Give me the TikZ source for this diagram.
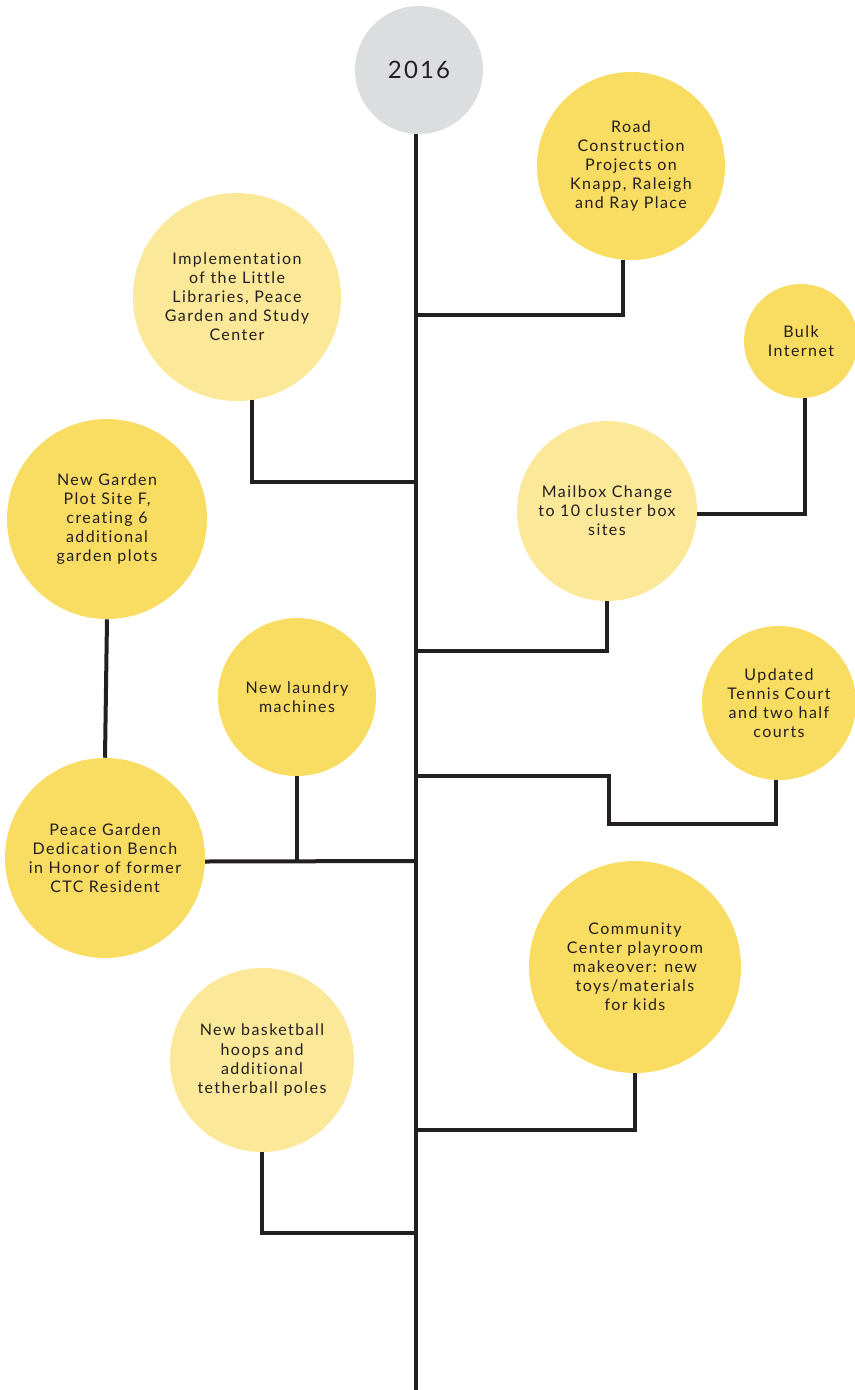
\documentclass[tikz,border=0pt]{standalone}
\usepackage{fontspec}
\setmainfont[LetterSpace=9,Ligatures=NoCommon]{Lato}
\usepackage{xcolor}
\usetikzlibrary{positioning}
\definecolor{eventdark}{HTML}{F9DC62}
\definecolor{eventlight}{HTML}{FBE899}
\definecolor{yeargray}{HTML}{DCDDDF}
\definecolor{stemblack}{HTML}{231F20}

\begin{document}
\begin{tikzpicture}[x=0.75pt, y=-0.75pt,
    event/.style={circle, fill=eventdark, inner sep=0pt, align=center, text=stemblack, font=\fontsize{12}{14.3}\selectfont},
    eventpale/.style={event, fill=eventlight},
    yearbox/.style={circle, fill=yeargray, inner sep=0pt, text=stemblack, font=\fontsize{18}{20}\selectfont},
    stem/.style={draw=stemblack, line width=3pt}
]
\useasboundingbox (0,0) rectangle (855,1390);
\clip (0,0) rectangle (855,1390);

% Year and trunk
\node[yearbox, minimum size=96pt] (year) at (419,70) {2016};
\coordinate (trunkend) at (416,1390);

% Events right of the trunk
\node[event, minimum size=141pt] (road) at (631,166) {Road\\Construction\\Projects on\\Knapp, Raleigh\\and Ray Place};
\node[event, minimum size=85.5pt] (bulk) at (801,341) {Bulk\\Internet};
\node[eventpale, minimum size=135pt] (mail) at (607,511) {Mailbox Change\\to 10 cluster box\\sites};
\node[event, minimum size=115.5pt] (tennis) at (779,703) {Updated\\Tennis Court\\and two half\\courts};
\node[event, minimum size=159pt] (playroom) at (635,967) {Community\\Center playroom\\makeover: new\\toys/materials\\for kids};

% Events left of the trunk
\node[eventpale, minimum size=156pt] (library) at (237,297) {Implementation\\of the Little\\Libraries, Peace\\Garden and Study\\Center};
\node[event, minimum size=150pt] (plot) at (107,519) {New Garden\\Plot Site F,\\creating 6\\additional\\garden plots};
\node[event, minimum size=118.5pt] (laundry) at (297,697) {New laundry\\machines};
\node[event, minimum size=150pt] (bench) at (105,858) {Peace Garden\\Dedication Bench\\in Honor of former\\CTC Resident};
\node[eventpale, minimum size=138pt] (hoops) at (262,1060) {New basketball\\hoops and\\additional\\tetherball poles};

% Junctions on the trunk
\coordinate (jroad) at (416,315);
\coordinate (jlibrary) at (416,482);
\coordinate (jmail) at (416,651);
\coordinate (jtennis) at (416,776);
\coordinate (ktennis) at (609,824);
\coordinate (jbench) at (416,861);
\coordinate (jplayroom) at (416,1130);
\coordinate (jhoops) at (416,1233);

% Connectors
\draw[stem] (year.south -| trunkend) -- (trunkend);
\draw[stem] (road.-95) |- (jroad);
\draw[stem] (library.-82) |- (jlibrary);
\draw[stem] (bulk.-86) |- (mail.-2);
\draw[stem] (mail.south) |- (jmail);
\draw[stem] (jtennis) -| (ktennis) -| (tennis.-92);
\draw[stem] (plot.south) -- (bench.north);
\draw[stem] (bench.-2) -- (jbench);
\draw[stem] (laundry.south) -- (laundry.south |- jbench);
\draw[stem] (playroom.south) |- (jplayroom);
\draw[stem] (hoops.south) |- (jhoops);

\end{tikzpicture}
\end{document}
